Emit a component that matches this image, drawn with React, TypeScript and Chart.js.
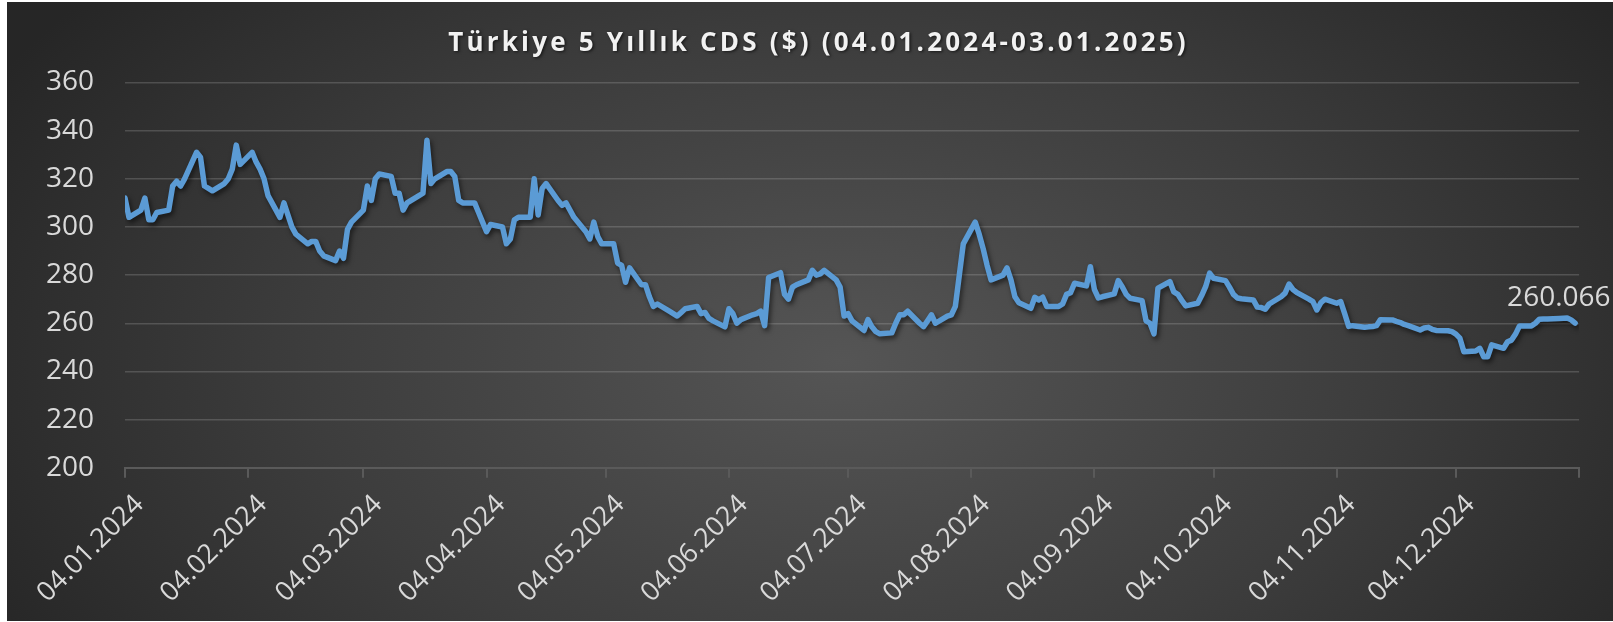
import React, { useEffect, useRef } from "react";
import { Chart, registerables } from "chart.js";

Chart.register(...registerables);

const TITLE = "Türkiye 5 Yıllık CDS ($) (04.01.2024-03.01.2025)";

const dates: string[] = [
  "04.01.2024","05.01.2024","08.01.2024","09.01.2024","10.01.2024","11.01.2024","12.01.2024","15.01.2024","16.01.2024","17.01.2024",
  "18.01.2024","19.01.2024","22.01.2024","23.01.2024","24.01.2024","25.01.2024","26.01.2024","29.01.2024","30.01.2024","31.01.2024",
  "01.02.2024","02.02.2024","05.02.2024","06.02.2024","07.02.2024","08.02.2024","09.02.2024","12.02.2024","13.02.2024","14.02.2024",
  "15.02.2024","16.02.2024","19.02.2024","20.02.2024","21.02.2024","22.02.2024","23.02.2024","26.02.2024","27.02.2024","28.02.2024",
  "29.02.2024","01.03.2024","04.03.2024","05.03.2024","06.03.2024","07.03.2024","08.03.2024","11.03.2024","12.03.2024","13.03.2024",
  "14.03.2024","15.03.2024","18.03.2024","19.03.2024","20.03.2024","21.03.2024","22.03.2024","25.03.2024","26.03.2024","27.03.2024",
  "28.03.2024","29.03.2024","01.04.2024","02.04.2024","03.04.2024","04.04.2024","05.04.2024","08.04.2024","09.04.2024","10.04.2024",
  "11.04.2024","12.04.2024","15.04.2024","16.04.2024","17.04.2024","18.04.2024","19.04.2024","22.04.2024","23.04.2024","24.04.2024",
  "25.04.2024","26.04.2024","29.04.2024","30.04.2024","01.05.2024","02.05.2024","03.05.2024","06.05.2024","07.05.2024","08.05.2024",
  "09.05.2024","10.05.2024","13.05.2024","14.05.2024","15.05.2024","16.05.2024","17.05.2024","20.05.2024","21.05.2024","22.05.2024",
  "23.05.2024","24.05.2024","27.05.2024","28.05.2024","29.05.2024","30.05.2024","31.05.2024","03.06.2024","04.06.2024","05.06.2024",
  "06.06.2024","07.06.2024","10.06.2024","11.06.2024","12.06.2024","13.06.2024","14.06.2024","17.06.2024","18.06.2024","19.06.2024",
  "20.06.2024","21.06.2024","24.06.2024","25.06.2024","26.06.2024","27.06.2024","28.06.2024","01.07.2024","02.07.2024","03.07.2024",
  "04.07.2024","05.07.2024","08.07.2024","09.07.2024","10.07.2024","11.07.2024","12.07.2024","15.07.2024","16.07.2024","17.07.2024",
  "18.07.2024","19.07.2024","22.07.2024","23.07.2024","24.07.2024","25.07.2024","26.07.2024","29.07.2024","30.07.2024","31.07.2024",
  "01.08.2024","02.08.2024","05.08.2024","06.08.2024","07.08.2024","08.08.2024","09.08.2024","12.08.2024","13.08.2024","14.08.2024",
  "15.08.2024","16.08.2024","19.08.2024","20.08.2024","21.08.2024","22.08.2024","23.08.2024","26.08.2024","27.08.2024","28.08.2024",
  "29.08.2024","30.08.2024","02.09.2024","03.09.2024","04.09.2024","05.09.2024","06.09.2024","09.09.2024","10.09.2024","11.09.2024",
  "12.09.2024","13.09.2024","16.09.2024","17.09.2024","18.09.2024","19.09.2024","20.09.2024","23.09.2024","24.09.2024","25.09.2024",
  "26.09.2024","27.09.2024","30.09.2024","01.10.2024","02.10.2024","03.10.2024","04.10.2024","07.10.2024","08.10.2024","09.10.2024",
  "10.10.2024","11.10.2024","14.10.2024","15.10.2024","16.10.2024","17.10.2024","18.10.2024","21.10.2024","22.10.2024","23.10.2024",
  "24.10.2024","25.10.2024","28.10.2024","29.10.2024","30.10.2024","31.10.2024","01.11.2024","04.11.2024","05.11.2024","06.11.2024",
  "07.11.2024","08.11.2024","11.11.2024","12.11.2024","13.11.2024","14.11.2024","15.11.2024","18.11.2024","19.11.2024","20.11.2024",
  "21.11.2024","22.11.2024","25.11.2024","26.11.2024","27.11.2024","28.11.2024","29.11.2024","02.12.2024","03.12.2024","04.12.2024",
  "05.12.2024","06.12.2024","09.12.2024","10.12.2024","11.12.2024","12.12.2024","13.12.2024","16.12.2024","17.12.2024","18.12.2024",
  "19.12.2024","20.12.2024","23.12.2024","24.12.2024","25.12.2024","26.12.2024","27.12.2024","30.12.2024","31.12.2024","01.01.2025",
  "02.01.2025","03.01.2025"
];

const cds: number[] = [
  312, 304, 307, 312, 303, 303, 306, 307, 317, 319,
  317, 320, 331, 329, 317, 316, 315, 318, 320, 324,
  334, 326, 331, 327, 324, 320, 313, 304, 310, 305,
  300, 297, 293, 294, 294, 290, 288, 286, 290, 287,
  299, 302, 307, 317, 311, 320, 322, 321, 314, 314,
  307, 310, 313, 314, 336, 318, 320, 323, 323, 321,
  311, 310, 310, 306, 302, 298, 301, 300, 293, 295,
  303, 304, 304, 320, 305, 316, 318, 311, 309, 310,
  307, 304, 298, 295, 302, 296, 293, 293, 285, 284,
  277, 283, 276, 276, 271, 267, 268, 265, 264, 263,
  264.5, 266, 267, 264, 264.5, 262, 261, 258.5, 266, 264,
  260, 261.5, 263.5, 264, 265, 259, 279, 281, 272, 270,
  275, 276, 278, 282, 280, 280.5, 282, 278, 275, 263,
  264, 261, 257, 261.5, 258.5, 256.5, 255.6, 256, 260, 263.5,
  263.5, 265, 260, 258.6, 261, 263.5, 260, 263, 263.5, 267,
  280, 293, 302, 297, 291, 284, 278, 280, 283, 278,
  271, 268.5, 266.2, 270.8, 269.7, 270.8, 267, 267, 268, 272,
  272.7, 276.6, 275.5, 283.5, 274, 270.5, 271, 272.2, 277.7, 275.2,
  272, 270.4, 269.4, 261, 260, 255.6, 274.6, 277.3, 273, 272,
  269.5, 267.2, 268.3, 271.5, 275.2, 280.8, 278.7, 277.7, 275, 272,
  270.5, 270.2, 269.7, 266.7, 266.5, 265.8, 268, 271, 272.5, 276.3,
  274, 272.7, 270, 269, 265.5, 268.5, 270, 268.3, 269, 264,
  258.7, 259, 258.3, 258.5, 258.6, 259, 261.5, 261.4, 260.8, 260.3,
  259.5, 259, 257.2, 258, 258.3, 257.5, 257, 256.9, 256.5, 255.5,
  253.8, 248.2, 248.5, 249.6, 246.1, 246.1, 251, 249.6, 252.3, 253,
  255.5, 258.9, 258.9, 260, 261.7, 261.8, 261.8, 262, 262.1, 262.2,
  261.4, 260.066
];

const tickDates: string[] = [
  "04.01.2024","04.02.2024","04.03.2024","04.04.2024","04.05.2024","04.06.2024",
  "04.07.2024","04.08.2024","04.09.2024","04.10.2024","04.11.2024","04.12.2024","04.01.2025"
];
const tickLabels: string[] = [
  "04.01.2024","04.02.2024","04.03.2024","04.04.2024","04.05.2024","04.06.2024",
  "04.07.2024","04.08.2024","04.09.2024","04.10.2024","04.11.2024","04.12.2024",""
];
const Y_MIN = 200;
const Y_MAX = 360;
const Y_STEP = 20;
const LAST_LABEL = "260.066";

const BASE = Date.UTC(2024, 0, 4);
function toDay(s: string): number {
  const [d, m, y] = s.split(".").map(Number);
  return Math.round((Date.UTC(y, m - 1, d) - BASE) / 86400000);
}

const W = 1606;
const H = 619;
const FONT = "'Open Sans', 'DejaVu Sans', sans-serif";

export default function App() {
  const ref = useRef<HTMLCanvasElement>(null);

  useEffect(() => {
    const canvas = ref.current;
    if (!canvas) return;
    const points = dates.map((d, i) => ({ x: toDay(d), y: cds[i] }));
    const tickVals = tickDates.map(toDay);

    const shadowPlugin = {
      id: "lineShadow",
      beforeDatasetsDraw(chart: any) {
        const c = chart.ctx;
        c.save();
        c.shadowColor = "rgba(0,0,0,0.55)";
        c.shadowBlur = 5;
        c.shadowOffsetX = 2;
        c.shadowOffsetY = 3;
      },
      afterDatasetsDraw(chart: any) {
        chart.ctx.restore();
      },
    };

    const labelPlugin = {
      id: "lastLabel",
      afterDatasetsDraw(chart: any) {
        const meta = chart.getDatasetMeta(0);
        const pt = meta.data[meta.data.length - 1];
        const c = chart.ctx;
        c.save();
        c.font = `28px ${FONT}`;
        c.fillStyle = "#d9d9d9";
        c.textAlign = "left";
        c.textBaseline = "middle";
        c.fillText(LAST_LABEL, pt.x - 68, pt.y - 25);
        c.restore();
      },
    };

    const titlePlugin = {
      id: "titleText",
      afterDraw(chart: any) {
        const c = chart.ctx;
        c.save();
        c.font = `bold 26px ${FONT}`;
        (c as any).letterSpacing = "3.2px";
        c.fillStyle = "#f2f2f2";
        c.textAlign = "center";
        c.textBaseline = "middle";
        c.shadowColor = "rgba(0,0,0,0.6)";
        c.shadowBlur = 3;
        c.shadowOffsetX = 1.5;
        c.shadowOffsetY = 1.5;
        c.fillText(TITLE, 811.5, 41.5);
        c.restore();
      },
    };

    const chart = new Chart(canvas, {
      type: "line",
      data: {
        datasets: [
          {
            label: "CDS",
            data: points,
            borderColor: "#5B9BD5",
            borderWidth: 5.5,
            pointRadius: 0,
            pointHoverRadius: 0,
            tension: 0,
            borderJoinStyle: "round",
            borderCapStyle: "round",
            fill: false,
          },
        ],
      },
      options: {
        animation: false,
        responsive: false,
        maintainAspectRatio: false,
        events: [],
        layout: { padding: { top: 80.5, right: 27, bottom: 0, left: 0 } },
        plugins: {
          legend: { display: false },
          title: { display: false },
          tooltip: { enabled: false },
        },
        scales: {
          x: {
            type: "linear",
            min: 0,
            max: tickVals[tickVals.length - 1],
            afterBuildTicks: (s: any) => {
              s.ticks = tickVals.map((v) => ({ value: v }));
            },
            afterFit: (s: any) => {
              s.height = H - 465.7;
            },
            ticks: {
              autoSkip: false,
              maxRotation: 45,
              minRotation: 45,
              color: "#d9d9d9",
              font: { family: FONT, size: 27 },
              padding: 11,
              labelOffset: 14.5,
              callback: (v: any) => {
                const i = tickVals.indexOf(Number(v));
                return i >= 0 ? tickLabels[i] : "";
              },
            },
            grid: {
              display: true,
              drawOnChartArea: false,
              drawTicks: true,
              tickLength: 10,
              color: "#5a5a5a",
              lineWidth: 2,
            },
            border: { display: true, color: "#5a5a5a", width: 2 },
          },
          y: {
            min: Y_MIN,
            max: Y_MAX,
            afterFit: (s: any) => {
              s.width = 118;
            },
            ticks: {
              stepSize: Y_STEP,
              color: "#d9d9d9",
              font: { family: FONT, size: 28 },
              padding: 31,
            },
            grid: {
              color: "rgba(217,217,217,0.2)",
              lineWidth: 1.5,
              drawTicks: false,
            },
            border: { display: false },
          },
        },
      },
      plugins: [shadowPlugin, labelPlugin, titlePlugin],
    } as any);

    return () => chart.destroy();
  }, []);

  return (
    <div
      style={{
        position: "fixed",
        left: 7,
        top: 2,
        width: W,
        height: H,
        background:
          "radial-gradient(ellipse 60% 95% at 52% 58%, #555555 0%, #3d3d3d 55%, #262626 100%)",
      }}
    >
      <canvas ref={ref} width={W} height={H} style={{ display: "block", width: W, height: H }} />
    </div>
  );
}
